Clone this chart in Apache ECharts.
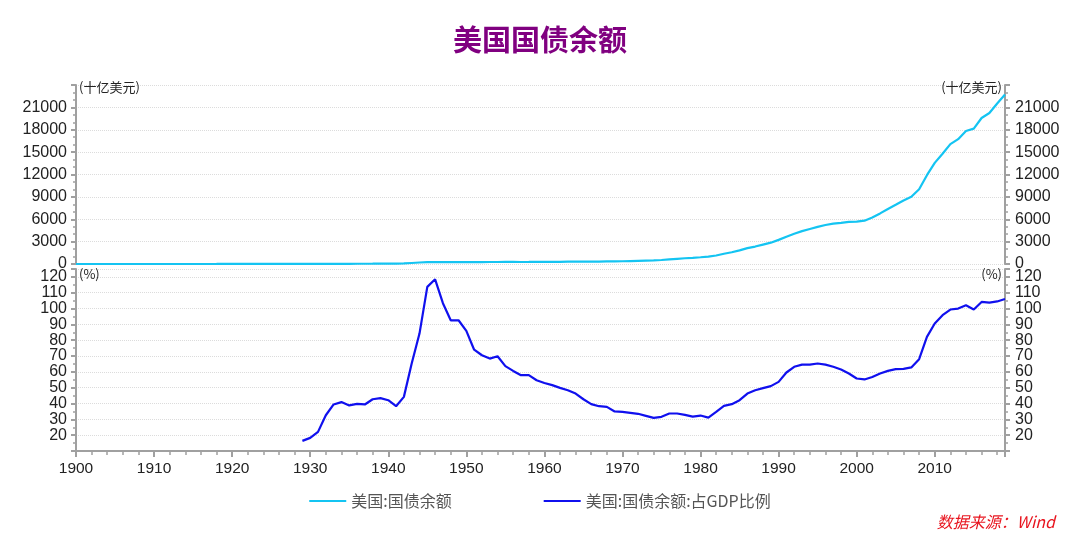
<!DOCTYPE html>
<html>
<head>
<meta charset="utf-8">
<title>美国国债余额</title>
<script src="https://cdn.jsdelivr.net/npm/echarts@6/dist/echarts.min.js"></script>
<style>
  html, body { margin: 0; padding: 0; background: #fff; }
  #chart { width: 1080px; height: 537px; }
</style>
</head>
<body>
<div id="chart"></div>
<script>
// 美国:国债余额 (十亿美元), 年度, 1900起
const debtStartYear = 1900;
const debtValues = [
  1.3, 1.2, 1.2, 1.2, 1.1, 1.1, 1.1, 1.1, 1.2, 1.1,
  1.1, 1.2, 1.2, 1.2, 1.2, 1.2, 1.2, 3.0, 12.5, 25.5,
  24.3, 24.0, 23.0, 22.4, 21.3, 20.5, 19.6, 18.5, 17.6, 16.9,
  16.2, 16.8, 19.5, 22.5, 27.1, 28.7, 33.8, 36.4, 37.2, 40.4,
  43.0, 49.0, 72.4, 136.7, 201.0, 258.7, 269.4, 258.3, 252.3, 252.8,
  257.4, 255.2, 259.1, 266.1, 271.3, 274.4, 272.8, 270.5, 276.3, 284.7,
  286.3, 289.0, 298.2, 305.9, 311.7, 317.3, 319.9, 326.2, 347.6, 353.7,
  370.9, 398.1, 427.3, 458.1, 475.1, 533.2, 620.4, 698.8, 771.5, 826.5,
  907.7, 997.9, 1142.0, 1377.2, 1572.3, 1823.1, 2125.3, 2340.0, 2602.3, 2857.4,
  3233.3, 3665.3, 4064.6, 4411.5, 4692.7, 4974.0, 5224.8, 5413.1, 5526.2, 5656.3,
  5674.2, 5807.5, 6228.2, 6783.2, 7379.1, 7932.7, 8507.0, 9007.7, 10024.7, 11909.8,
  13561.6, 14790.3, 16066.2, 16738.2, 17824.1, 18150.6, 19573.4, 20244.9, 21516.1, 22719.4
];

// 美国:国债余额:占GDP比例 (%), 年度, 1929起
const ratioStartYear = 1929;
const ratioValues = [
  16.4,
  18.3, 22.1, 32.6, 39.4, 40.9, 38.8, 39.8, 39.4, 42.7, 43.4,
  42.1, 38.3, 44.2, 65.3, 84.2, 113.7, 118.5, 103.4, 92.6, 92.6,
  85.9, 74.0, 70.5, 68.4, 69.9, 63.6, 60.6, 57.9, 57.9, 54.7,
  53.0, 51.6, 49.9, 48.4, 46.3, 42.7, 39.6, 38.3, 37.9, 35.0,
  34.7, 34.1, 33.5, 32.2, 30.9, 31.6, 33.7, 33.7, 32.8, 31.7,
  32.4, 31.1, 34.7, 38.5, 39.6, 42.1, 46.3, 48.4, 49.7, 51.0,
  53.7, 59.6, 63.2, 64.6, 64.6, 65.3, 64.6, 63.2, 61.5, 59.0,
  55.8, 55.2, 56.8, 59.0, 60.6, 61.7, 61.9, 62.8, 68.0, 82.1,
  90.6, 95.8, 99.4, 100.0, 102.1, 99.4, 104.2, 103.8, 104.5, 106.0
];

const seriesNames = ['美国:国债余额', '美国:国债余额:占GDP比例'];

const toPairs = (start, values) => values.map((v, i) => [start + i, v]);
const plain = v => String(v);

const axisGray = '#a0a0a0';
const labelStyle = { color: '#222', fontSize: 16, fontFamily: '"Liberation Sans", Arial, sans-serif', formatter: plain };
const nameStyle = { color: '#222', fontSize: 13, fontFamily: '"Noto Sans CJK SC", sans-serif', verticalAlign: 'middle' };
const minor = n => ({ show: true, splitNumber: n, length: 3, lineStyle: { color: axisGray, width: 1.5 } });

// 纵轴公共样式
const yAxisBase = (gridIndex, position, opts) => Object.assign({
  type: 'value',
  gridIndex,
  position,
  nameLocation: 'end',
  axisLine: { show: true, lineStyle: { color: axisGray, width: 2 } },
  axisTick: { show: true, length: 5, lineStyle: { color: axisGray, width: 2 } },
  splitLine: { show: position === 'left', lineStyle: { color: '#dcdcdc', type: 'dotted' } }
}, opts);

const option = {
  animation: false,
  backgroundColor: '#fff',
  title: [
    {
      text: '美国国债余额',
      left: 'center',
      top: 25,
      padding: 0,
      textStyle: { color: '#800080', fontSize: 29, fontWeight: 'bold', fontFamily: '"Noto Sans CJK SC", sans-serif' }
    },
    {
      text: '数据来源：Wind',
      right: 25,
      top: 514,
      padding: 0,
      textStyle: { color: '#e8141e', fontSize: 16, fontStyle: 'italic', fontWeight: 'normal', fontFamily: '"Noto Sans CJK SC", sans-serif' }
    }
  ],
  legend: {
    top: 488,
    left: 'center',
    itemGap: 92,
    itemWidth: 37,
    itemHeight: 2,
    icon: 'rect',
    textStyle: { color: '#555', fontSize: 16, fontFamily: '"Noto Sans CJK SC", sans-serif' },
    data: seriesNames
  },
  grid: [
    { left: 76, right: 75, top: 85, height: 179 },
    { left: 76, right: 75, top: 269, height: 182 }
  ],
  xAxis: [
    { type: 'value', gridIndex: 0, min: 1900, max: 2019, interval: 10, show: false },
    {
      type: 'value',
      gridIndex: 1,
      min: 1900,
      max: 2019,
      interval: 10,
      axisLine: { show: true, onZero: false, lineStyle: { color: axisGray, width: 2 } },
      axisTick: { show: true, length: 6, lineStyle: { color: axisGray, width: 2 } },
      minorTick: { show: true, splitNumber: 5, length: 4, lineStyle: { color: axisGray, width: 1.5 } },
      axisLabel: Object.assign({ margin: 10, showMaxLabel: false }, labelStyle, { fontSize: 15.5 }),
      splitLine: { show: false }
    }
  ],
  yAxis: [
    yAxisBase(0, 'left', {
      min: 0, max: 24000, interval: 3000,
      name: '(十亿美元)', nameGap: -2,
      nameTextStyle: Object.assign({}, nameStyle, { align: 'left', padding: [0, 0, 0, 3] }),
      minorTick: minor(3),
      axisLabel: Object.assign({ margin: 9, showMaxLabel: false }, labelStyle)
    }),
    yAxisBase(0, 'right', {
      min: 0, max: 24000, interval: 3000,
      name: '(十亿美元)', nameGap: -2,
      nameTextStyle: Object.assign({}, nameStyle, { align: 'right', padding: [0, 3, 0, 0] }),
      minorTick: minor(3),
      axisLabel: Object.assign({ margin: 10, showMaxLabel: false }, labelStyle)
    }),
    yAxisBase(1, 'left', {
      min: 10, max: 125, interval: 10,
      name: '(%)', nameGap: -5,
      nameTextStyle: Object.assign({}, nameStyle, { align: 'left', padding: [0, 0, 0, 3] }),
      minorTick: minor(2),
      axisLabel: Object.assign({ margin: 9, showMinLabel: false }, labelStyle)
    }),
    yAxisBase(1, 'right', {
      min: 10, max: 125, interval: 10,
      name: '(%)', nameGap: -5,
      nameTextStyle: Object.assign({}, nameStyle, { align: 'right', padding: [0, 3, 0, 0] }),
      minorTick: minor(2),
      axisLabel: Object.assign({ margin: 10, showMinLabel: false }, labelStyle)
    })
  ],
  series: [
    {
      name: seriesNames[0],
      type: 'line',
      xAxisIndex: 0,
      yAxisIndex: 0,
      symbol: 'none',
      data: toPairs(debtStartYear, debtValues),
      itemStyle: { color: '#14c4f2' },
      lineStyle: { color: '#14c4f2', width: 2.2 }
    },
    {
      name: seriesNames[1],
      type: 'line',
      xAxisIndex: 1,
      yAxisIndex: 2,
      symbol: 'none',
      data: toPairs(ratioStartYear, ratioValues),
      itemStyle: { color: '#1010ee' },
      lineStyle: { color: '#1010ee', width: 2.2 }
    }
  ]
};

const chart = echarts.init(document.getElementById('chart'));
chart.setOption(option);
</script>
</body>
</html>
